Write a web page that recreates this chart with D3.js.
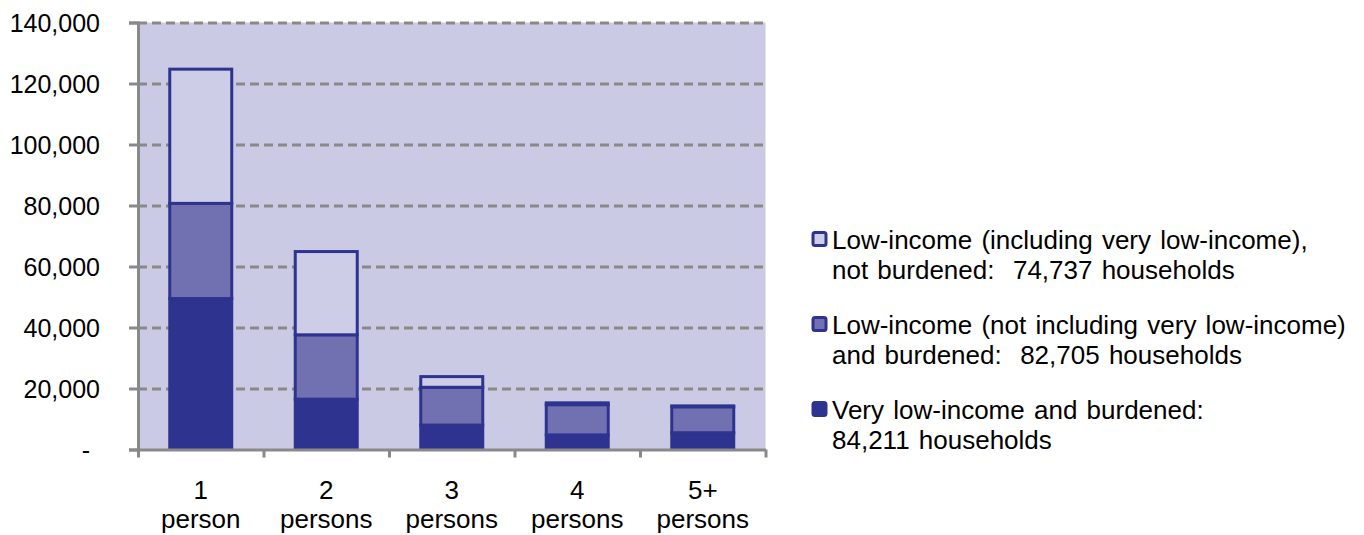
<!DOCTYPE html>
<html>
<head>
<meta charset="utf-8">
<script src="https://cdn.jsdelivr.net/npm/d3@7"></script>
<style>
  body { margin: 0; background: #fff; }
  svg text { font-family: "Liberation Sans", Arial, sans-serif; fill: #000; }
</style>
</head>
<body>
<svg id="chart" width="1364" height="535"></svg>
<script>
// data
const categories = ["1\nperson", "2\npersons", "3\npersons", "4\npersons", "5+\npersons"];
const veryLowBurdened = [49500, 16500, 8000, 4800, 5500];
const lowBurdened = [31200, 21100, 12400, 9900, 8500];
const lowNotBurdened = [44000, 27300, 3500, 600, 300];
const yTicks = [0, 20000, 40000, 60000, 80000, 100000, 120000, 140000];
const legendLines = [
  ["Low-income (including very low-income),", "not burdened:  74,737 households"],
  ["Low-income (not including very low-income)", "and burdened:  82,705 households"],
  ["Very low-income and burdened:", "84,211 households"]
];

const keys = ["veryLow", "low", "notBurdened"];
const colors = { veryLow: "#2e3390", low: "#7171b1", notBurdened: "#cdcde7" };
const legendKeys = ["notBurdened", "low", "veryLow"];

const margin = { top: 22.5, left: 138, right: 598.5, bottom: 85.5 },
      width = 1364 - margin.left - margin.right,
      height = 535 - margin.top - margin.bottom;

const table = categories.map((c, i) => ({
  cat: c,
  veryLow: veryLowBurdened[i],
  low: lowBurdened[i],
  notBurdened: lowNotBurdened[i]
}));

const svg = d3.select("#chart");
const g = svg.append("g").attr("transform", `translate(${margin.left},${margin.top})`);

const x = d3.scaleBand().domain(categories).range([0, width])
  .paddingInner(0.506).paddingOuter(0.253);
const xEdges = d3.scaleLinear().domain([0, categories.length]).range([0, width]);
const y = d3.scaleLinear().domain([0, 140000]).range([height, 0]);

const grey = "#898989";

// plot area
g.append("rect")
  .attr("width", width).attr("height", height)
  .attr("fill", "#cacae4");

// dashed gridlines
g.append("g")
  .call(d3.axisLeft(y).tickValues(yTicks.filter(d => d > 0)).tickSize(-width).tickFormat(""))
  .call(s => s.select(".domain").remove())
  .selectAll("line")
  .attr("stroke", grey).attr("stroke-width", 3).attr("stroke-dasharray", "9,5");

// stacked bars
const stacked = d3.stack().keys(keys)(table);
g.selectAll("g.layer")
  .data(stacked)
  .enter().append("g")
  .attr("class", "layer")
  .attr("fill", d => colors[d.key])
  .selectAll("rect")
  .data(d => d)
  .enter().append("rect")
  .attr("x", d => x(d.data.cat))
  .attr("y", d => y(d[1]))
  .attr("width", x.bandwidth())
  .attr("height", d => y(d[0]) - y(d[1]))
  .attr("stroke", colors.veryLow)
  .attr("stroke-width", 3);

// y axis
const yAxis = g.append("g")
  .call(d3.axisLeft(y).tickValues(yTicks).tickSize(9).tickPadding(29)
    .tickFormat(d => d === 0 ? "-" : d3.format(",")(d)));
yAxis.select(".domain").attr("stroke", grey).attr("stroke-width", 3);
yAxis.selectAll(".tick line").attr("stroke", grey).attr("stroke-width", 3);
yAxis.selectAll(".tick text")
  .attr("font-size", 25).attr("dy", "0.36em")
  .attr("dx", d => d === 0 ? -10 : 0);

// x axis line with ticks at category edges
const xAxis = g.append("g")
  .attr("transform", `translate(0,${height})`)
  .call(d3.axisBottom(xEdges).ticks(categories.length).tickSize(8).tickSizeOuter(0).tickFormat(""));
xAxis.select(".domain").attr("stroke", grey).attr("stroke-width", 3);
xAxis.selectAll(".tick line").attr("stroke", grey).attr("stroke-width", 3);

// category labels
const xLabels = g.append("g")
  .attr("transform", `translate(0,${height})`)
  .call(d3.axisBottom(x).tickSize(0).tickFormat(""));
xLabels.select(".domain").remove();
xLabels.selectAll(".tick").append("text")
  .attr("text-anchor", "middle")
  .attr("font-size", 26)
  .selectAll("tspan")
  .data(d => d.split("\n"))
  .enter().append("tspan")
  .attr("x", 0)
  .attr("y", (d, i) => 49 + i * 29.5)
  .text(d => d);

// legend
const legend = svg.append("g").attr("transform", "translate(813,0)");
legendKeys.forEach((k, i) => {
  const base = 249 + i * 85;
  legend.append("rect")
    .attr("x", 0).attr("y", base - 16.5)
    .attr("width", 13).attr("height", 13)
    .attr("rx", 2)
    .attr("fill", colors[k])
    .attr("stroke", colors.veryLow)
    .attr("stroke-width", 3);
  legendLines[i].forEach((line, j) => {
    legend.append("text")
      .attr("x", 19)
      .attr("y", base + j * 29.5)
      .attr("font-size", 26)
      .style("white-space", "pre")
      .style("word-spacing", "2px")
      .text(line);
  });
});
</script>
</body>
</html>
